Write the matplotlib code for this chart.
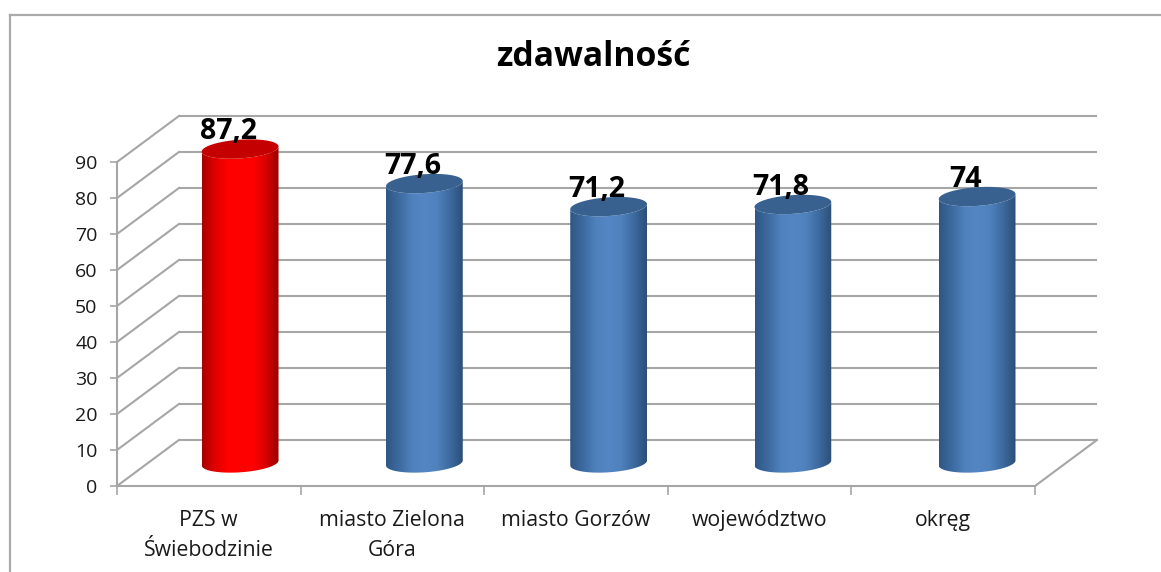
import numpy as np
import matplotlib
matplotlib.use('Agg')
import matplotlib.pyplot as plt
from matplotlib.lines import Line2D
from matplotlib.patches import PathPatch, Polygon
from matplotlib.path import Path
from matplotlib.colors import LinearSegmentedColormap

plt.rcParams['font.family'] = ['Open Sans', 'DejaVu Sans']

# Dane
categories = ['PZS w\nŚwiebodzinie', 'miasto Zielona\nGóra', 'miasto Gorzów', 'województwo', 'okręg']
values = [87.2, 77.6, 71.2, 71.8, 74]
value_labels = ['87,2', '77,6', '71,2', '71,8', '74']
y_ticks = [0, 10, 20, 30, 40, 50, 60, 70, 80, 90]
title = 'zdawalność'

grid_color = '#a6a6a6'
text_color = '#1a1a1a'

# przesuniecie sciany tylnej (w jednostkach osi)
depth_x = 0.338
depth_y = 12.8
bar_step = 1.0035

W, H = 1161, 572
fig = plt.figure(figsize=(W / 100, H / 100), dpi=100)
ax = fig.add_axes([117 / W, (H - 486) / H, 918 / W, 324 / H])
ax.patch.set_visible(False)

# ramka obrazka
fig.add_artist(Line2D([10 / W, 10 / W], [0, 1 - 14.5 / H], color='#aaaaaa', lw=1.6))
fig.add_artist(Line2D([10 / W, 1], [1 - 14.5 / H, 1 - 14.5 / H], color='#aaaaaa', lw=1.6))

n = len(categories)

# siatka: sciana tylna i skosy
for t in y_ticks:
    ax.plot([depth_x, n + depth_x], [t + depth_y, t + depth_y], color=grid_color, lw=1.5,
            clip_on=False, zorder=1, solid_capstyle='butt')
    ax.plot([0, depth_x], [t, t + depth_y], color=grid_color, lw=1.5, clip_on=False, zorder=1)
ax.plot([n, n + depth_x], [0, depth_y], color=grid_color, lw=1.5, clip_on=False, zorder=1)


def ring(cx, val):
    t = np.linspace(0, 2 * np.pi, 181)
    x = cx + 0.209 * np.cos(t)
    y = val + 0.7 * np.cos(t) + 2.6 * np.sin(t)
    return x, y


blue_cmap = LinearSegmentedColormap.from_list('b', ['#2f5785', '#3d6a9f', '#4f81bd', '#5486c4', '#4f81bd', '#3d6a9f', '#2c4f78'])
red_cmap = LinearSegmentedColormap.from_list('r', ['#a80000', '#e00000', '#ff0000', '#ff0000', '#ff0000', '#d80000', '#9a0000'])
bar_colors = [red_cmap, blue_cmap, blue_cmap, blue_cmap, blue_cmap]
cap_colors = ['#c40000', '#38618f', '#38618f', '#38618f', '#38618f']

for i, val in enumerate(values):
    cx = (i + 0.5) * bar_step + depth_x / 2
    base = depth_y / 2
    xb, yb = ring(cx, base)
    xt, yt = ring(cx, base + val)
    # dolny luk: od prawej (t=0) przez dol do lewej (t=pi)
    idx = np.arange(90, 181)
    body = np.vstack([np.c_[xb[idx], yb[idx]], [[xb[0], yb[0]]],
                      [[xb[0], yb[0] + val]], np.c_[xb[idx][::-1], (yb[idx] + val)[::-1]]])
    grad = np.linspace(0, 1, 200).reshape(1, -1)
    im = ax.imshow(grad, cmap=bar_colors[i], aspect='auto', zorder=3,
                   extent=[xb.min(), xb.max(), base - 5, base + val + 5])
    im.set_clip_box(fig.bbox)
    im.set_clip_path(PathPatch(Path(np.vstack([body, body[0]]), closed=True), transform=ax.transData))
    ax.add_patch(Polygon(np.c_[xt, yt], closed=True, facecolor=cap_colors[i], edgecolor='none',
                         zorder=4, clip_on=False))
    ax.annotate(value_labels[i], (cx, base + val), xytext=(-8.5, 2), textcoords='offset points',
                ha='center', va='bottom', fontsize=20.5, fontweight='bold', color='black', zorder=5,
                annotation_clip=False)

ax.set_xlim(0, n)
ax.set_ylim(0, 90)

# osie
for s in ['top', 'right']:
    ax.spines[s].set_visible(False)
for s in ['left', 'bottom']:
    ax.spines[s].set_color(grid_color)
    ax.spines[s].set_linewidth(1.5)
ax.set_yticks(y_ticks)
ax.tick_params(axis='y', length=5, width=1.2, color=grid_color, labelcolor=text_color, labelsize=14, pad=9)
ax.set_xticks(np.arange(n + 1))
ax.set_xticklabels([])
ax.tick_params(axis='x', which='major', length=6.5, width=1.2, color=grid_color)
ax.set_xticks(np.arange(n) + 0.5, minor=True)
ax.set_xticklabels(categories, minor=True, fontsize=15.3, color=text_color, linespacing=1.56)
ax.tick_params(axis='x', which='minor', length=0, pad=17)

fig.text(593 / W, 1 - 57 / H, title, ha='center', va='center', fontsize=24.3, fontweight='bold', color='black')

fig.savefig('out.png', dpi=100)
